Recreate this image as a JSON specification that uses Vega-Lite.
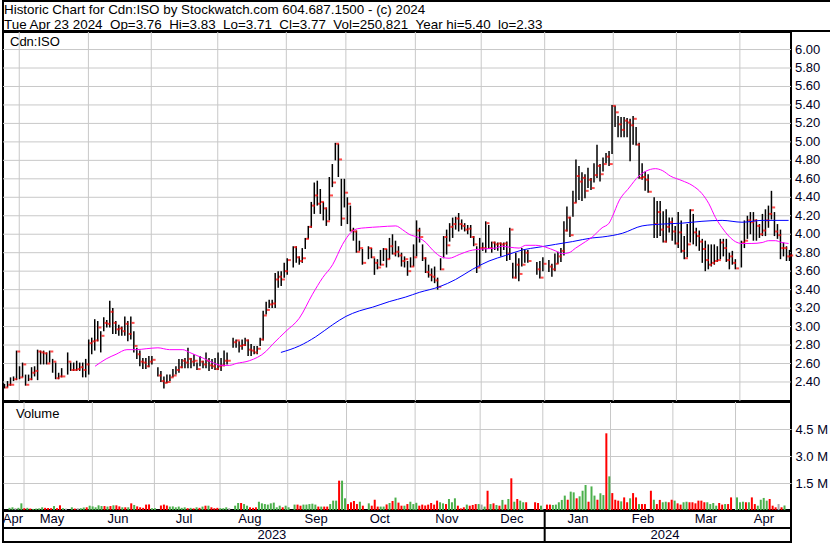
{
"$schema":"https://vega.github.io/schema/vega-lite/v6.json",
"padding":{"left":1,"top":0,"right":0,"bottom":0},
"spacing":1,
"bounds":"flush",
"config":{"view":{"stroke":"#000000","strokeWidth":2},"font":"Liberation Sans","axis":{"labelOverlap":false,"labelFlush":false,"labelBound":false}},
"resolve":{"scale":{"x":"independent","y":"independent","color":"independent"}},
"datasets":{
"header":[{"line":1,"t":"Historic Chart for Cdn:ISO by Stockwatch.com 604.687.1500 - (c) 2024"},{"line":2,"t":"Tue Apr 23 2024\u00a0\u00a0Op=3.76\u00a0\u00a0Hi=3.83\u00a0\u00a0Lo=3.71\u00a0\u00a0Cl=3.77\u00a0\u00a0Vol=250,821\u00a0\u00a0Year hi=5.40\u00a0\u00a0lo=2.33"}],
"plev":[{"p":2.4},{"p":2.6},{"p":2.8},{"p":3.0},{"p":3.2},{"p":3.4},{"p":3.6},{"p":3.8},{"p":4.0},{"p":4.2},{"p":4.4},{"p":4.6},{"p":4.8},{"p":5.0},{"p":5.2},{"p":5.4},{"p":5.6},{"p":5.8},{"p":6.0}],
"grid":[{"s":4.9},{"s":27.9},{"s":48.8},{"s":70.9},{"s":93.7},{"s":113.5},{"s":136.6},{"s":158.5},{"s":179.6},{"s":202.4},{"s":223.4},{"s":244.5}],
"mlab":[{"m":"Apr","x":2.8},{"m":"May","x":15.8},{"m":"Jun","x":37.7},{"m":"Jul","x":59.7},{"m":"Aug","x":81.6},{"m":"Sep","x":103.6},{"m":"Oct","x":124.8},{"m":"Nov","x":147.1},{"m":"Dec","x":168.7},{"m":"Jan","x":190.7},{"m":"Feb","x":212.3},{"m":"Mar","x":233.2},{"m":"Apr","x":252.5}],
"ylab":[{"y":"2023","x":88.9},{"y":"2024","x":219.6}],
"ysep":[{"s":179.6}],
"ma1":[{"k":30.1,"p":2.57},{"k":33.8,"p":2.65},{"k":37.1,"p":2.70},{"k":40.7,"p":2.75},{"k":43.8,"p":2.75},{"k":47.1,"p":2.76},{"k":51.0,"p":2.77},{"k":54.9,"p":2.75},{"k":59.3,"p":2.75},{"k":61.5,"p":2.72},{"k":65.9,"p":2.66},{"k":69.2,"p":2.61},{"k":72.0,"p":2.58},{"k":74.8,"p":2.58},{"k":77.0,"p":2.60},{"k":81.4,"p":2.63},{"k":86.9,"p":2.73},{"k":89.2,"p":2.81},{"k":93.6,"p":2.95},{"k":98.0,"p":3.09},{"k":102.4,"p":3.35},{"k":105.8,"p":3.53},{"k":109.1,"p":3.67},{"k":112.4,"p":3.89},{"k":115.2,"p":4.02},{"k":117.4,"p":4.06},{"k":120.1,"p":4.07},{"k":124.6,"p":4.08},{"k":130.1,"p":4.09},{"k":132.3,"p":4.05},{"k":134.5,"p":4.00},{"k":137.9,"p":3.96},{"k":140.1,"p":3.91},{"k":142.3,"p":3.83},{"k":145.6,"p":3.75},{"k":147.8,"p":3.74},{"k":151.2,"p":3.78},{"k":154.5,"p":3.82},{"k":158.9,"p":3.84},{"k":163.3,"p":3.85},{"k":165.5,"p":3.87},{"k":167.8,"p":3.86},{"k":171.1,"p":3.85},{"k":173.3,"p":3.88},{"k":176.6,"p":3.88},{"k":179.9,"p":3.86},{"k":183.2,"p":3.82},{"k":185.5,"p":3.79},{"k":187.7,"p":3.80},{"k":189.9,"p":3.85},{"k":193.2,"p":3.92},{"k":195.4,"p":3.97},{"k":198.7,"p":4.07},{"k":201.0,"p":4.12},{"k":202.1,"p":4.19},{"k":204.3,"p":4.36},{"k":207.6,"p":4.50},{"k":210.9,"p":4.63},{"k":213.1,"p":4.68},{"k":216.4,"p":4.71},{"k":218.7,"p":4.69},{"k":221.4,"p":4.63},{"k":225.3,"p":4.58},{"k":228.6,"p":4.53},{"k":231.9,"p":4.44},{"k":234.2,"p":4.33},{"k":236.4,"p":4.18},{"k":238.6,"p":4.07},{"k":240.8,"p":3.98},{"k":243.0,"p":3.92},{"k":245.2,"p":3.90},{"k":248.5,"p":3.90},{"k":251.9,"p":3.91},{"k":254.1,"p":3.93},{"k":256.3,"p":3.93},{"k":258.5,"p":3.91},{"k":260.7,"p":3.90}],
"ma2":[{"k":91.9,"p":2.72},{"k":98.0,"p":2.79},{"k":103.5,"p":2.89},{"k":109.1,"p":3.02},{"k":113.5,"p":3.11},{"k":118.0,"p":3.17},{"k":122.4,"p":3.21},{"k":127.9,"p":3.27},{"k":133.4,"p":3.32},{"k":137.9,"p":3.37},{"k":144.5,"p":3.43},{"k":150.0,"p":3.51},{"k":155.6,"p":3.62},{"k":161.1,"p":3.71},{"k":166.6,"p":3.77},{"k":172.2,"p":3.83},{"k":177.7,"p":3.86},{"k":183.2,"p":3.89},{"k":188.8,"p":3.92},{"k":195.4,"p":3.96},{"k":198.7,"p":3.97},{"k":205.4,"p":4.01},{"k":212.0,"p":4.09},{"k":218.7,"p":4.11},{"k":225.3,"p":4.12},{"k":231.9,"p":4.14},{"k":238.6,"p":4.15},{"k":245.2,"p":4.13},{"k":251.9,"p":4.15},{"k":260.7,"p":4.15}],
"bars":[
{"k":0,"h":2.38,"l":2.33,"c":2.34,"v":120000,"d":"up"},
{"k":1,"h":2.41,"l":2.34,"c":2.37,"v":150000,"d":"up"},
{"k":2,"h":2.45,"l":2.36,"c":2.37,"v":100000,"d":"same"},
{"k":3,"h":2.46,"l":2.41,"c":2.43,"v":120000,"d":"up"},
{"k":4,"h":2.74,"l":2.42,"c":2.73,"v":370000,"d":"up"},
{"k":5,"h":2.57,"l":2.43,"c":2.45,"v":100000,"d":"down"},
{"k":6,"h":2.61,"l":2.45,"c":2.59,"v":120000,"d":"up"},
{"k":7,"h":2.48,"l":2.36,"c":2.37,"v":80000,"d":"down"},
{"k":8,"h":2.48,"l":2.41,"c":2.43,"v":60000,"d":"up"},
{"k":9,"h":2.56,"l":2.42,"c":2.50,"v":80000,"d":"up"},
{"k":10,"h":2.57,"l":2.46,"c":2.52,"v":90000,"d":"up"},
{"k":11,"h":2.75,"l":2.42,"c":2.73,"v":150000,"d":"up"},
{"k":12,"h":2.74,"l":2.59,"c":2.72,"v":120000,"d":"down"},
{"k":13,"h":2.74,"l":2.59,"c":2.71,"v":110000,"d":"down"},
{"k":14,"h":2.72,"l":2.59,"c":2.60,"v":100000,"d":"down"},
{"k":15,"h":2.74,"l":2.61,"c":2.73,"v":220000,"d":"up"},
{"k":16,"h":2.65,"l":2.50,"c":2.62,"v":100000,"d":"down"},
{"k":17,"h":2.61,"l":2.43,"c":2.44,"v":260000,"d":"down"},
{"k":18,"h":2.50,"l":2.43,"c":2.46,"v":100000,"d":"up"},
{"k":19,"h":2.55,"l":2.45,"c":2.46,"v":80000,"d":"same"},
{"k":21,"h":2.72,"l":2.48,"c":2.62,"v":150000,"d":"up"},
{"k":22,"h":2.61,"l":2.52,"c":2.53,"v":80000,"d":"down"},
{"k":23,"h":2.61,"l":2.52,"c":2.53,"v":100000,"d":"same"},
{"k":24,"h":2.63,"l":2.52,"c":2.54,"v":100000,"d":"up"},
{"k":25,"h":2.61,"l":2.52,"c":2.56,"v":140000,"d":"up"},
{"k":26,"h":2.61,"l":2.45,"c":2.53,"v":150000,"d":"down"},
{"k":27,"h":2.65,"l":2.45,"c":2.59,"v":240000,"d":"up"},
{"k":28,"h":2.86,"l":2.48,"c":2.82,"v":200000,"d":"up"},
{"k":29,"h":2.88,"l":2.70,"c":2.84,"v":150000,"d":"up"},
{"k":30,"h":3.08,"l":2.74,"c":2.85,"v":260000,"d":"up"},
{"k":31,"h":3.06,"l":2.84,"c":2.99,"v":220000,"d":"up"},
{"k":32,"h":2.95,"l":2.72,"c":2.90,"v":220000,"d":"down"},
{"k":33,"h":3.10,"l":2.95,"c":3.04,"v":190000,"d":"up"},
{"k":34,"h":3.07,"l":2.99,"c":3.03,"v":220000,"d":"down"},
{"k":35,"h":3.28,"l":2.99,"c":3.16,"v":260000,"d":"up"},
{"k":36,"h":3.20,"l":2.92,"c":3.04,"v":260000,"d":"down"},
{"k":37,"h":3.06,"l":2.92,"c":2.97,"v":200000,"d":"down"},
{"k":38,"h":3.02,"l":2.90,"c":2.98,"v":150000,"d":"up"},
{"k":39,"h":3.00,"l":2.90,"c":2.95,"v":150000,"d":"down"},
{"k":40,"h":3.11,"l":2.90,"c":3.03,"v":150000,"d":"up"},
{"k":41,"h":3.06,"l":2.84,"c":2.92,"v":370000,"d":"down"},
{"k":42,"h":3.11,"l":2.86,"c":3.04,"v":280000,"d":"up"},
{"k":43,"h":2.95,"l":2.72,"c":2.79,"v":200000,"d":"down"},
{"k":44,"h":2.77,"l":2.65,"c":2.70,"v":150000,"d":"down"},
{"k":45,"h":2.74,"l":2.57,"c":2.62,"v":120000,"d":"down"},
{"k":46,"h":2.66,"l":2.54,"c":2.61,"v":300000,"d":"down"},
{"k":47,"h":2.66,"l":2.54,"c":2.57,"v":310000,"d":"down"},
{"k":48,"h":2.68,"l":2.56,"c":2.62,"v":100000,"d":"up"},
{"k":49,"h":2.68,"l":2.59,"c":2.64,"v":100000,"d":"up"},
{"k":51,"h":2.56,"l":2.46,"c":2.47,"v":250000,"d":"down"},
{"k":52,"h":2.52,"l":2.40,"c":2.41,"v":300000,"d":"down"},
{"k":53,"h":2.46,"l":2.33,"c":2.39,"v":250000,"d":"down"},
{"k":54,"h":2.48,"l":2.39,"c":2.40,"v":190000,"d":"up"},
{"k":55,"h":2.48,"l":2.41,"c":2.45,"v":200000,"d":"up"},
{"k":56,"h":2.54,"l":2.45,"c":2.47,"v":150000,"d":"up"},
{"k":57,"h":2.57,"l":2.48,"c":2.53,"v":190000,"d":"up"},
{"k":58,"h":2.65,"l":2.50,"c":2.56,"v":120000,"d":"up"},
{"k":59,"h":2.65,"l":2.55,"c":2.63,"v":150000,"d":"up"},
{"k":60,"h":2.66,"l":2.55,"c":2.61,"v":100000,"d":"down"},
{"k":61,"h":2.77,"l":2.55,"c":2.65,"v":120000,"d":"up"},
{"k":62,"h":2.66,"l":2.55,"c":2.62,"v":90000,"d":"down"},
{"k":63,"h":2.70,"l":2.57,"c":2.63,"v":150000,"d":"up"},
{"k":64,"h":2.61,"l":2.53,"c":2.54,"v":120000,"d":"down"},
{"k":65,"h":2.68,"l":2.57,"c":2.62,"v":190000,"d":"up"},
{"k":66,"h":2.63,"l":2.55,"c":2.59,"v":240000,"d":"down"},
{"k":67,"h":2.72,"l":2.55,"c":2.63,"v":240000,"d":"up"},
{"k":68,"h":2.66,"l":2.52,"c":2.58,"v":150000,"d":"down"},
{"k":69,"h":2.65,"l":2.54,"c":2.57,"v":100000,"d":"down"},
{"k":70,"h":2.66,"l":2.53,"c":2.54,"v":120000,"d":"down"},
{"k":71,"h":2.72,"l":2.53,"c":2.57,"v":100000,"d":"up"},
{"k":72,"h":2.66,"l":2.52,"c":2.58,"v":100000,"d":"up"},
{"k":73,"h":2.74,"l":2.57,"c":2.63,"v":150000,"d":"up"},
{"k":74,"h":2.72,"l":2.59,"c":2.63,"v":100000,"d":"same"},
{"k":76,"h":2.88,"l":2.77,"c":2.83,"v":240000,"d":"up"},
{"k":77,"h":2.86,"l":2.77,"c":2.85,"v":390000,"d":"up"},
{"k":78,"h":2.84,"l":2.72,"c":2.79,"v":390000,"d":"down"},
{"k":79,"h":2.86,"l":2.75,"c":2.80,"v":330000,"d":"up"},
{"k":80,"h":2.88,"l":2.79,"c":2.85,"v":240000,"d":"up"},
{"k":81,"h":2.86,"l":2.68,"c":2.75,"v":150000,"d":"down"},
{"k":82,"h":2.81,"l":2.68,"c":2.74,"v":120000,"d":"down"},
{"k":83,"h":2.79,"l":2.70,"c":2.72,"v":150000,"d":"down"},
{"k":84,"h":2.79,"l":2.70,"c":2.76,"v":460000,"d":"up"},
{"k":85,"h":2.88,"l":2.79,"c":2.86,"v":370000,"d":"up"},
{"k":86,"h":3.17,"l":2.85,"c":3.12,"v":330000,"d":"up"},
{"k":87,"h":3.27,"l":3.13,"c":3.18,"v":300000,"d":"up"},
{"k":88,"h":3.29,"l":3.20,"c":3.24,"v":370000,"d":"up"},
{"k":89,"h":3.29,"l":3.20,"c":3.25,"v":410000,"d":"up"},
{"k":90,"h":3.58,"l":3.20,"c":3.51,"v":150000,"d":"up"},
{"k":91,"h":3.60,"l":3.42,"c":3.54,"v":240000,"d":"up"},
{"k":92,"h":3.60,"l":3.44,"c":3.51,"v":150000,"d":"down"},
{"k":93,"h":3.69,"l":3.53,"c":3.60,"v":240000,"d":"up"},
{"k":94,"h":3.74,"l":3.56,"c":3.72,"v":150000,"d":"up"},
{"k":96,"h":3.87,"l":3.64,"c":3.86,"v":300000,"d":"up"},
{"k":97,"h":3.87,"l":3.69,"c":3.75,"v":300000,"d":"down"},
{"k":98,"h":3.76,"l":3.67,"c":3.71,"v":240000,"d":"down"},
{"k":99,"h":3.85,"l":3.69,"c":3.74,"v":300000,"d":"up"},
{"k":100,"h":3.96,"l":3.84,"c":3.95,"v":300000,"d":"up"},
{"k":101,"h":4.09,"l":3.95,"c":4.08,"v":330000,"d":"up"},
{"k":102,"h":4.35,"l":4.07,"c":4.31,"v":350000,"d":"up"},
{"k":103,"h":4.56,"l":4.22,"c":4.42,"v":300000,"d":"up"},
{"k":104,"h":4.58,"l":4.31,"c":4.33,"v":190000,"d":"down"},
{"k":105,"h":4.49,"l":4.22,"c":4.35,"v":190000,"d":"up"},
{"k":106,"h":4.35,"l":4.15,"c":4.28,"v":190000,"d":"down"},
{"k":107,"h":4.29,"l":4.09,"c":4.14,"v":190000,"d":"down"},
{"k":108,"h":4.62,"l":4.15,"c":4.42,"v":330000,"d":"up"},
{"k":109,"h":4.76,"l":4.51,"c":4.56,"v":520000,"d":"up"},
{"k":110,"h":4.99,"l":4.80,"c":4.98,"v":520000,"d":"up"},
{"k":111,"h":4.98,"l":4.62,"c":4.81,"v":1630000,"d":"down"},
{"k":112,"h":4.60,"l":4.09,"c":4.17,"v":1630000,"d":"up"},
{"k":113,"h":4.60,"l":4.29,"c":4.45,"v":650000,"d":"up"},
{"k":114,"h":4.40,"l":4.11,"c":4.33,"v":330000,"d":"down"},
{"k":115,"h":4.31,"l":4.03,"c":4.04,"v":430000,"d":"down"},
{"k":116,"h":4.07,"l":3.93,"c":4.03,"v":500000,"d":"down"},
{"k":117,"h":4.04,"l":3.80,"c":3.81,"v":330000,"d":"down"},
{"k":118,"h":3.93,"l":3.82,"c":3.85,"v":460000,"d":"up"},
{"k":119,"h":3.84,"l":3.67,"c":3.69,"v":240000,"d":"down"},
{"k":121,"h":3.87,"l":3.73,"c":3.85,"v":370000,"d":"up"},
{"k":122,"h":3.85,"l":3.74,"c":3.75,"v":240000,"d":"down"},
{"k":123,"h":3.74,"l":3.56,"c":3.69,"v":570000,"d":"down"},
{"k":124,"h":3.73,"l":3.62,"c":3.64,"v":190000,"d":"down"},
{"k":125,"h":3.83,"l":3.66,"c":3.67,"v":190000,"d":"up"},
{"k":126,"h":3.85,"l":3.71,"c":3.84,"v":190000,"d":"up"},
{"k":127,"h":3.84,"l":3.64,"c":3.73,"v":310000,"d":"down"},
{"k":128,"h":3.96,"l":3.73,"c":3.87,"v":390000,"d":"up"},
{"k":129,"h":4.00,"l":3.78,"c":3.79,"v":500000,"d":"down"},
{"k":130,"h":3.93,"l":3.76,"c":3.81,"v":690000,"d":"up"},
{"k":131,"h":3.87,"l":3.75,"c":3.77,"v":410000,"d":"down"},
{"k":132,"h":3.80,"l":3.65,"c":3.71,"v":240000,"d":"down"},
{"k":133,"h":3.76,"l":3.64,"c":3.73,"v":240000,"d":"up"},
{"k":134,"h":3.71,"l":3.55,"c":3.60,"v":330000,"d":"down"},
{"k":135,"h":3.75,"l":3.64,"c":3.65,"v":460000,"d":"up"},
{"k":136,"h":3.89,"l":3.65,"c":3.75,"v":330000,"d":"up"},
{"k":137,"h":4.15,"l":3.76,"c":4.04,"v":400000,"d":"up"},
{"k":138,"h":4.07,"l":3.91,"c":3.97,"v":240000,"d":"down"},
{"k":139,"h":3.89,"l":3.71,"c":3.74,"v":300000,"d":"down"},
{"k":140,"h":3.75,"l":3.58,"c":3.59,"v":250000,"d":"down"},
{"k":141,"h":3.67,"l":3.53,"c":3.56,"v":300000,"d":"down"},
{"k":142,"h":3.63,"l":3.49,"c":3.54,"v":390000,"d":"down"},
{"k":143,"h":3.65,"l":3.47,"c":3.50,"v":300000,"d":"down"},
{"k":144,"h":3.53,"l":3.40,"c":3.43,"v":520000,"d":"down"},
{"k":145,"h":3.74,"l":3.61,"c":3.62,"v":430000,"d":"up"},
{"k":146,"h":3.98,"l":3.74,"c":3.97,"v":370000,"d":"up"},
{"k":147,"h":4.05,"l":3.78,"c":3.88,"v":330000,"d":"down"},
{"k":148,"h":4.12,"l":3.92,"c":4.08,"v":610000,"d":"up"},
{"k":149,"h":4.18,"l":3.96,"c":4.11,"v":430000,"d":"up"},
{"k":150,"h":4.19,"l":4.05,"c":4.17,"v":650000,"d":"up"},
{"k":151,"h":4.23,"l":4.03,"c":4.11,"v":240000,"d":"down"},
{"k":152,"h":4.16,"l":4.05,"c":4.09,"v":90000,"d":"down"},
{"k":153,"h":4.12,"l":4.03,"c":4.05,"v":150000,"d":"down"},
{"k":154,"h":4.10,"l":4.00,"c":4.06,"v":300000,"d":"up"},
{"k":155,"h":4.10,"l":3.96,"c":3.97,"v":240000,"d":"down"},
{"k":156,"h":3.98,"l":3.87,"c":3.89,"v":280000,"d":"down"},
{"k":157,"h":3.87,"l":3.58,"c":3.64,"v":330000,"d":"down"},
{"k":158,"h":3.96,"l":3.65,"c":3.85,"v":330000,"d":"up"},
{"k":159,"h":3.91,"l":3.82,"c":3.85,"v":300000,"d":"same"},
{"k":160,"h":4.14,"l":3.80,"c":4.12,"v":190000,"d":"up"},
{"k":161,"h":4.10,"l":3.84,"c":3.85,"v":1070000,"d":"down"},
{"k":162,"h":3.92,"l":3.80,"c":3.91,"v":330000,"d":"up"},
{"k":163,"h":3.92,"l":3.83,"c":3.89,"v":370000,"d":"down"},
{"k":164,"h":3.91,"l":3.82,"c":3.90,"v":280000,"d":"up"},
{"k":165,"h":3.91,"l":3.76,"c":3.89,"v":240000,"d":"down"},
{"k":166,"h":3.91,"l":3.83,"c":3.90,"v":560000,"d":"up"},
{"k":167,"h":3.92,"l":3.71,"c":3.79,"v":300000,"d":"down"},
{"k":168,"h":4.07,"l":3.72,"c":4.05,"v":610000,"d":"up"},
{"k":169,"h":3.69,"l":3.52,"c":3.53,"v":1760000,"d":"down"},
{"k":170,"h":3.80,"l":3.52,"c":3.67,"v":460000,"d":"up"},
{"k":171,"h":3.74,"l":3.49,"c":3.57,"v":610000,"d":"down"},
{"k":172,"h":3.85,"l":3.65,"c":3.67,"v":520000,"d":"up"},
{"k":173,"h":3.83,"l":3.69,"c":3.80,"v":430000,"d":"up"},
{"k":174,"h":3.83,"l":3.69,"c":3.71,"v":430000,"d":"down"},
{"k":177,"h":3.70,"l":3.56,"c":3.62,"v":430000,"d":"down"},
{"k":178,"h":3.71,"l":3.52,"c":3.53,"v":390000,"d":"down"},
{"k":179,"h":3.75,"l":3.60,"c":3.68,"v":240000,"d":"up"},
{"k":181,"h":3.72,"l":3.59,"c":3.65,"v":300000,"d":"down"},
{"k":182,"h":3.68,"l":3.54,"c":3.62,"v":300000,"d":"down"},
{"k":183,"h":3.79,"l":3.60,"c":3.68,"v":280000,"d":"up"},
{"k":184,"h":3.81,"l":3.68,"c":3.76,"v":300000,"d":"up"},
{"k":185,"h":3.85,"l":3.70,"c":3.82,"v":430000,"d":"up"},
{"k":186,"h":4.14,"l":3.77,"c":4.04,"v":560000,"d":"up"},
{"k":187,"h":4.30,"l":4.03,"c":4.18,"v":800000,"d":"up"},
{"k":188,"h":4.19,"l":3.97,"c":3.99,"v":570000,"d":"down"},
{"k":189,"h":4.47,"l":4.19,"c":4.34,"v":1020000,"d":"up"},
{"k":190,"h":4.81,"l":4.34,"c":4.63,"v":980000,"d":"up"},
{"k":191,"h":4.74,"l":4.37,"c":4.57,"v":650000,"d":"down"},
{"k":192,"h":4.67,"l":4.36,"c":4.61,"v":760000,"d":"up"},
{"k":193,"h":4.65,"l":4.39,"c":4.47,"v":1070000,"d":"up"},
{"k":194,"h":4.72,"l":4.50,"c":4.59,"v":1390000,"d":"up"},
{"k":195,"h":4.61,"l":4.48,"c":4.50,"v":460000,"d":"down"},
{"k":196,"h":4.77,"l":4.56,"c":4.64,"v":1310000,"d":"up"},
{"k":197,"h":4.97,"l":4.61,"c":4.74,"v":800000,"d":"up"},
{"k":198,"h":4.76,"l":4.57,"c":4.65,"v":570000,"d":"down"},
{"k":199,"h":4.83,"l":4.68,"c":4.76,"v":930000,"d":"up"},
{"k":200,"h":4.88,"l":4.77,"c":4.84,"v":830000,"d":"up"},
{"k":201,"h":4.90,"l":4.74,"c":4.76,"v":4260000,"d":"down"},
{"k":202,"h":5.40,"l":4.87,"c":5.39,"v":1870000,"d":"up"},
{"k":203,"h":5.39,"l":5.16,"c":5.32,"v":940000,"d":"down"},
{"k":204,"h":5.28,"l":5.05,"c":5.19,"v":570000,"d":"down"},
{"k":205,"h":5.27,"l":5.05,"c":5.13,"v":520000,"d":"down"},
{"k":206,"h":5.27,"l":5.05,"c":5.23,"v":480000,"d":"up"},
{"k":207,"h":5.26,"l":5.05,"c":5.21,"v":700000,"d":"down"},
{"k":208,"h":5.25,"l":4.79,"c":5.18,"v":430000,"d":"down"},
{"k":209,"h":5.28,"l":4.97,"c":5.25,"v":650000,"d":"up"},
{"k":210,"h":5.16,"l":4.96,"c":4.97,"v":940000,"d":"down"},
{"k":211,"h":4.99,"l":4.60,"c":4.61,"v":700000,"d":"down"},
{"k":212,"h":4.77,"l":4.59,"c":4.62,"v":330000,"d":"up"},
{"k":213,"h":4.68,"l":4.47,"c":4.59,"v":330000,"d":"down"},
{"k":214,"h":4.65,"l":4.45,"c":4.46,"v":330000,"d":"down"},
{"k":216,"h":4.40,"l":3.96,"c":4.11,"v":1070000,"d":"down"},
{"k":217,"h":4.36,"l":3.96,"c":4.24,"v":570000,"d":"up"},
{"k":218,"h":4.36,"l":3.98,"c":4.05,"v":330000,"d":"down"},
{"k":219,"h":4.25,"l":3.91,"c":3.92,"v":560000,"d":"down"},
{"k":220,"h":4.27,"l":3.91,"c":4.08,"v":430000,"d":"up"},
{"k":221,"h":4.18,"l":4.02,"c":4.13,"v":460000,"d":"up"},
{"k":222,"h":4.18,"l":3.93,"c":4.03,"v":430000,"d":"down"},
{"k":223,"h":4.09,"l":3.89,"c":3.90,"v":570000,"d":"down"},
{"k":224,"h":4.24,"l":3.85,"c":4.02,"v":520000,"d":"up"},
{"k":225,"h":4.15,"l":3.80,"c":3.82,"v":370000,"d":"down"},
{"k":226,"h":3.98,"l":3.73,"c":3.74,"v":300000,"d":"down"},
{"k":227,"h":4.11,"l":3.75,"c":3.89,"v":430000,"d":"up"},
{"k":228,"h":4.27,"l":3.91,"c":4.26,"v":460000,"d":"up"},
{"k":229,"h":4.22,"l":3.89,"c":4.02,"v":430000,"d":"down"},
{"k":230,"h":4.07,"l":3.87,"c":3.98,"v":430000,"d":"down"},
{"k":231,"h":4.04,"l":3.82,"c":3.92,"v":370000,"d":"down"},
{"k":232,"h":3.95,"l":3.69,"c":3.84,"v":520000,"d":"down"},
{"k":233,"h":3.93,"l":3.60,"c":3.72,"v":520000,"d":"down"},
{"k":234,"h":3.89,"l":3.62,"c":3.67,"v":430000,"d":"down"},
{"k":235,"h":3.89,"l":3.65,"c":3.69,"v":430000,"d":"up"},
{"k":236,"h":3.89,"l":3.67,"c":3.71,"v":330000,"d":"up"},
{"k":237,"h":3.87,"l":3.70,"c":3.72,"v":390000,"d":"up"},
{"k":238,"h":3.95,"l":3.73,"c":3.91,"v":240000,"d":"up"},
{"k":239,"h":3.95,"l":3.76,"c":3.85,"v":390000,"d":"down"},
{"k":240,"h":3.95,"l":3.70,"c":3.72,"v":300000,"d":"down"},
{"k":241,"h":3.80,"l":3.62,"c":3.76,"v":330000,"d":"up"},
{"k":242,"h":3.82,"l":3.67,"c":3.69,"v":330000,"d":"down"},
{"k":243,"h":3.73,"l":3.62,"c":3.63,"v":700000,"d":"down"},
{"k":245,"h":3.93,"l":3.64,"c":3.91,"v":700000,"d":"up"},
{"k":246,"h":4.15,"l":3.85,"c":3.93,"v":430000,"d":"up"},
{"k":247,"h":4.20,"l":3.95,"c":4.15,"v":460000,"d":"up"},
{"k":248,"h":4.24,"l":4.00,"c":4.13,"v":430000,"d":"down"},
{"k":249,"h":4.24,"l":3.93,"c":4.15,"v":430000,"d":"up"},
{"k":250,"h":4.16,"l":3.93,"c":4.09,"v":700000,"d":"down"},
{"k":251,"h":4.11,"l":3.96,"c":4.00,"v":330000,"d":"down"},
{"k":252,"h":4.22,"l":3.98,"c":4.04,"v":240000,"d":"up"},
{"k":253,"h":4.27,"l":3.98,"c":4.15,"v":570000,"d":"up"},
{"k":254,"h":4.31,"l":4.07,"c":4.22,"v":670000,"d":"up"},
{"k":255,"h":4.47,"l":4.16,"c":4.29,"v":520000,"d":"up"},
{"k":256,"h":4.24,"l":3.98,"c":4.03,"v":610000,"d":"down"},
{"k":257,"h":4.11,"l":3.95,"c":3.99,"v":240000,"d":"down"},
{"k":258,"h":4.05,"l":3.73,"c":3.85,"v":150000,"d":"down"},
{"k":259,"h":3.91,"l":3.76,"c":3.85,"v":330000,"d":"same"},
{"k":260,"h":3.87,"l":3.71,"c":3.76,"v":150000,"d":"down"},
{"k":261,"h":3.83,"l":3.71,"c":3.77,"v":250821,"d":"up"}
]},
"vconcat":[
{"width":828,"height":30,"data":{"name":"header"},
 "mark":{"type":"text","align":"left","baseline":"alphabetic","fontSize":13.4,"font":"Liberation Sans","color":"#000000","dx":1},
 "encoding":{
  "x":{"datum":0,"type":"quantitative","scale":{"domain":[0,1]},"axis":null},
  "y":{"field":"line","type":"quantitative","scale":{"domain":[0.1333,2.1333],"reverse":true,"zero":false,"nice":false},"axis":null},
  "text":{"field":"t"}}},
{"width":788,"height":369,
 "layer":[
  {"data":{"name":"plev"},"mark":{"type":"rule","color":"#c8c8c8","strokeWidth":1},
   "encoding":{"y":{"field":"p","type":"quantitative","scale":{"domain":[2.194,6.19],"zero":false,"nice":false},"axis":null}}},
  {"data":{"name":"grid"},"mark":{"type":"rule","color":"#c8c8c8","strokeWidth":1},
   "encoding":{"x":{"field":"s","type":"quantitative","scale":{"domain":[-0.5,261.5],"nice":false,"zero":false},"axis":null}}},
  {"data":{"name":"bars"},"mark":{"type":"rule","color":"#000000","strokeWidth":1.5},
   "encoding":{"x":{"field":"k","type":"quantitative"},"y":{"field":"l","type":"quantitative"},"y2":{"field":"h"}}},
  {"data":{"name":"bars"},"mark":{"type":"tick","orient":"horizontal","size":3,"thickness":2,"xOffset":2.2,"color":"#ff0000"},
   "encoding":{"x":{"field":"k","type":"quantitative"},"y":{"field":"c","type":"quantitative"}}},
  {"data":{"name":"ma2"},"mark":{"type":"line","color":"#0000ff","strokeWidth":1,"interpolate":"monotone"},
   "encoding":{"x":{"field":"k","type":"quantitative"},"y":{"field":"p","type":"quantitative"}}},
  {"data":{"name":"ma1"},"mark":{"type":"line","color":"#ff00ff","strokeWidth":1,"interpolate":"monotone"},
   "encoding":{"x":{"field":"k","type":"quantitative"},"y":{"field":"p","type":"quantitative"}}},
  {"data":{"name":"plev"},"mark":{"type":"text","align":"left","baseline":"middle","dx":4,"fontSize":13,"font":"Liberation Sans","color":"#000022"},
   "encoding":{"x":{"datum":261.5,"type":"quantitative"},"y":{"field":"p","type":"quantitative"},"text":{"field":"p","type":"quantitative","format":".2f"}}},
  {"data":{"values":[{"t":"Cdn:ISO"}]},"mark":{"type":"text","align":"left","baseline":"middle","dx":7,"dy":10,"fontSize":13,"font":"Liberation Sans","color":"#000000"},
   "encoding":{"x":{"datum":-0.5,"type":"quantitative"},"y":{"datum":6.19,"type":"quantitative"},"text":{"field":"t"}}}
 ]},
{"width":788,"height":108,
 "layer":[
  {"data":{"name":"grid"},"mark":{"type":"rule","color":"#c8c8c8","strokeWidth":1},
   "encoding":{"x":{"field":"s","type":"quantitative","scale":{"domain":[-0.5,261.5],"nice":false,"zero":false},"axis":null}}},
  {"data":{"name":"bars"},"mark":{"type":"bar","width":2},
   "encoding":{"x":{"field":"k","type":"quantitative"},
    "y":{"field":"v","type":"quantitative","scale":{"domain":[0,6000000],"nice":false},
     "axis":{"orient":"right","title":null,"values":[1500000,3000000,4500000],"labelExpr":"format(datum.value/1000000,'.1f') + ' M'","grid":true,"gridColor":"#c8c8c8","gridWidth":1,"ticks":false,"domain":false,"labelPadding":4,"labelFontSize":13,"labelFont":"Liberation Sans","labelColor":"#000022","labelFlush":false,"labelOverlap":false}},
    "color":{"field":"d","type":"nominal","scale":{"domain":["up","down","same"],"range":["#4cb04c","#ff0000","#a8a8a8"]},"legend":null}}},
  {"data":{"values":[{"t":"Volume"}]},"mark":{"type":"text","align":"left","baseline":"middle","dx":8,"dy":12,"fontSize":13,"font":"Liberation Sans","color":"#000000"},
   "encoding":{"x":{"datum":-0.5,"type":"quantitative"},"y":{"datum":6000000,"type":"quantitative"},"text":{"field":"t"}}}
 ]},
{"width":788,"height":31,
 "layer":[
  {"data":{"name":"mlab"},"mark":{"type":"text","align":"center","baseline":"middle","fontSize":13,"font":"Liberation Sans","color":"#000022"},
   "encoding":{"x":{"field":"x","type":"quantitative","scale":{"domain":[-0.5,261.5],"nice":false,"zero":false},"axis":null},
    "y":{"datum":0.73,"type":"quantitative","scale":{"domain":[0,1],"nice":false},"axis":null},"text":{"field":"m"}}},
  {"data":{"name":"ylab"},"mark":{"type":"text","align":"center","baseline":"middle","fontSize":13,"font":"Liberation Sans","color":"#000022"},
   "encoding":{"x":{"field":"x","type":"quantitative"},"y":{"datum":0.21,"type":"quantitative"},"text":{"field":"y"}}},
  {"data":{"values":[{"t":"row"}]},"mark":{"type":"rule","color":"#000000","strokeWidth":2},
   "encoding":{"y":{"datum":0.45,"type":"quantitative"}}},
  {"data":{"name":"ysep"},"mark":{"type":"rule","color":"#000000","strokeWidth":2},
   "encoding":{"x":{"field":"s","type":"quantitative"}}}
 ]}
]
}
